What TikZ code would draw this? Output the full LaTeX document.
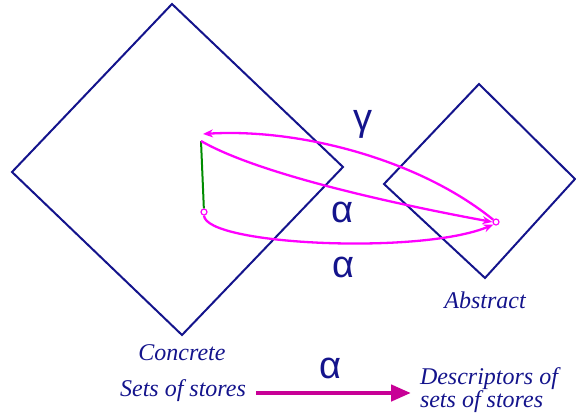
\documentclass[tikz,border=0pt]{standalone}
\usepackage{fontspec}
\setmainfont{Liberation Serif}
\newfontfamily\greekf{Liberation Sans}
\usetikzlibrary{arrows.meta}
\definecolor{navy}{RGB}{20,20,140}
\definecolor{mag}{RGB}{255,0,255}
\definecolor{dmag}{RGB}{200,0,150}
\definecolor{grn}{RGB}{0,140,0}
\tikzset{
  dia/.style={draw=navy, line width=2pt, line join=miter},
  curv/.style={draw=mag, line width=2.3pt, -{Stealth[length=10pt,width=8pt]}},
  lbl/.style={text=navy, font=\fontsize{24}{23}\selectfont\itshape, inner sep=0pt},
  glbl/.style={text=navy, font=\fontsize{38}{40}\selectfont\greekf, inner sep=0pt},
  dot/.style={circle, draw=mag, fill=white, line width=1.2pt, inner sep=0pt, minimum size=6pt}
}
\begin{document}
\begin{tikzpicture}[x=1pt,y=-1pt]
\useasboundingbox (0,0) rectangle (576,416);
% diamonds
\draw[dia] (172,4) -- (343,167) -- (182,335) -- (12,172) -- cycle;
\draw[dia] (479,84) -- (575,179) -- (485,278) -- (384,184) -- cycle;
% points
\coordinate (gt) at (201,141);
\node[dot] (cl) at (204,212) {};
\node[dot] (ab) at (496,222) {};
\coordinate (gend) at (203,134);
% green line
\draw[grn, line width=2pt] (gt) -- (cl);
% curves
\draw[curv] (ab) .. controls (420,160) and (300,128) .. (gend);
\draw[curv] (gt) .. controls (260,175) and (400,205) .. (ab.west);
\draw[curv] (cl.south) .. controls (206,245) and (420,255) .. (ab.south west);
% greek labels
\node[glbl] (g) at (363,124) {γ};
\node[glbl] (a1) at (342,212) {α};
\node[glbl] (a2) at (343,267) {α};
\node[glbl] (a3) at (330,368) {α};
% texts
\node[lbl] (conc) at (182,353) {Concrete};
\node[lbl] (sos) at (183,391) {Sets of stores};
\node[lbl] (abs) at (485,300) {Abstract};
\node[lbl, align=left] (desc) at (489,390) {Descriptors of\\sets of stores};
\draw[dmag, line width=4.5pt, -{Triangle[length=20pt,width=16pt]}] (256,393) -- (411,393);
\end{tikzpicture}
\end{document}
